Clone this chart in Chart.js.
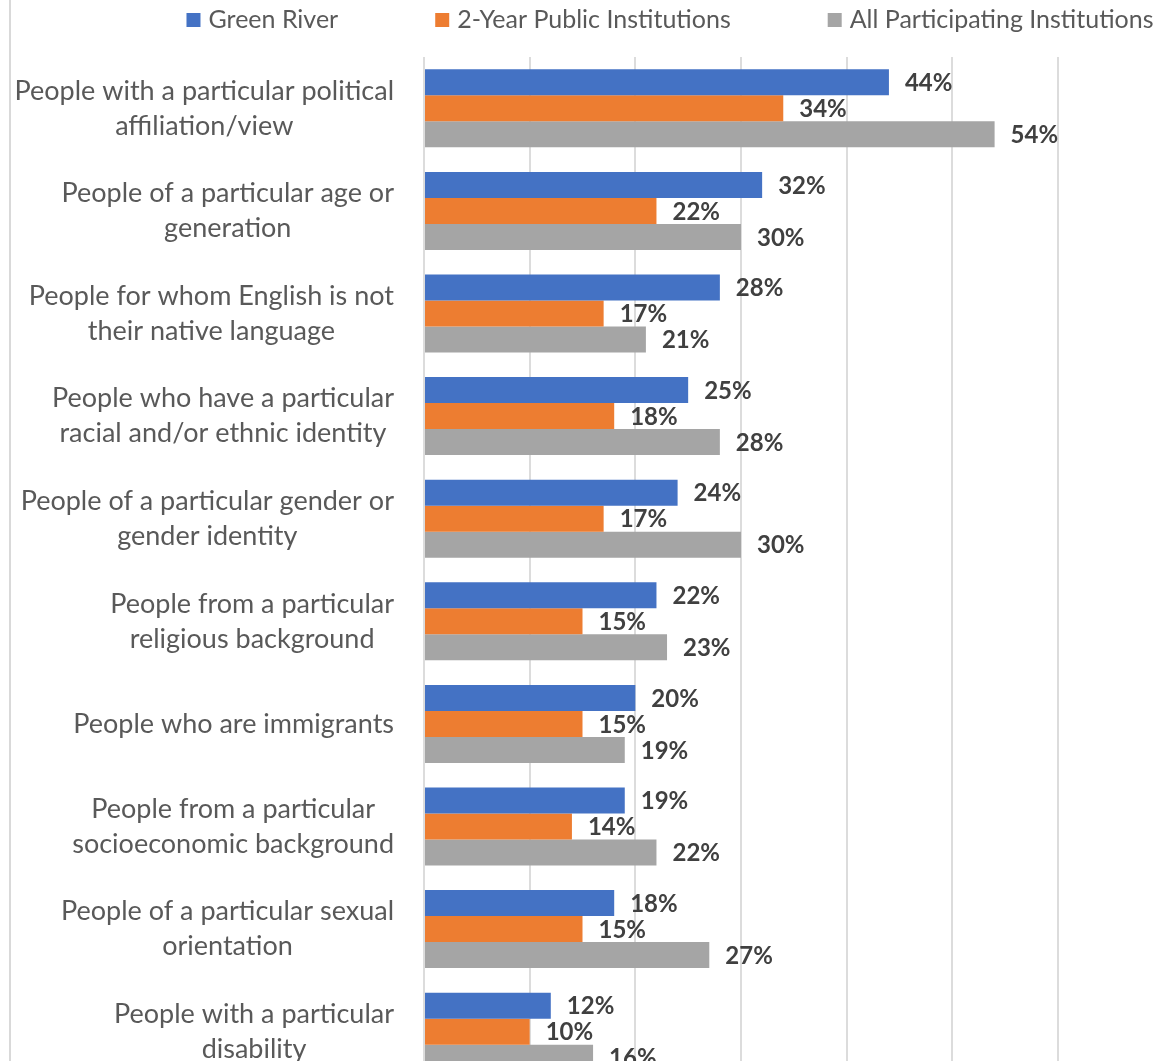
<!DOCTYPE html>
<html>
<head>
<meta charset="utf-8">
<script src="https://cdn.jsdelivr.net/npm/chart.js@4.4.1/dist/chart.umd.min.js"></script>
<style>
  html, body { margin: 0; padding: 0; background: #fff; overflow: hidden; }
  #wrap { width: 1156px; height: 1130px; }
</style>
</head>
<body>
<div id="wrap"><canvas id="placeholder1" width="1156" height="1130"></canvas></div>
<script>
const categories = [
    ['People with a particular political', 'affiliation/view'],
    ['People of a particular age or', 'generation'],
    ['People for whom English is not', 'their native language'],
    ['People who have a particular', 'racial and/or ethnic identity'],
    ['People of a particular gender or', 'gender identity'],
    ['People from a particular', 'religious background'],
    ['People who are immigrants'],
    ['People from a particular', 'socioeconomic background'],
    ['People of a particular sexual', 'orientation'],
    ['People with a particular', 'disability']
];
const greenRiver = [44, 32, 28, 25, 24, 22, 20, 19, 18, 12];
const twoYearPublic = [34, 22, 17, 18, 17, 15, 15, 14, 15, 10];
const allParticipating = [54, 30, 21, 28, 30, 23, 19, 22, 27, 16];
const xTicks = [0, 10, 20, 30, 40, 50, 60];

const FONT = 'Lato, "Open Sans", sans-serif';
const LABEL_COLOR = '#595959';

// frame line, category labels, value labels and legend
const excelLook = {
    id: 'excelLook',
    beforeDraw(chart) {
        const ctx = chart.ctx;
        ctx.save();
        ctx.fillStyle = '#d9d9d9';
        ctx.fillRect(9, 0, 2, chart.height);
        ctx.restore();
    },
    afterDatasetsDraw(chart) {
        const ctx = chart.ctx;
        ctx.save();
        ctx.font = 'bold 24px ' + FONT;
        ctx.fillStyle = '#404040';
        ctx.textAlign = 'left';
        ctx.textBaseline = 'middle';
        chart.data.datasets.forEach((ds, di) => {
            chart.getDatasetMeta(di).data.forEach((bar, i) => {
                ctx.fillText(ds.data[i] + '%', bar.x + 16, bar.y + 1);
            });
        });
        ctx.restore();
    },
    afterDraw(chart) {
        const ctx = chart.ctx;
        const yScale = chart.scales.y;
        ctx.save();
        ctx.font = '27px ' + FONT;
        ctx.fillStyle = LABEL_COLOR;
        ctx.textAlign = 'center';
        ctx.textBaseline = 'middle';
        const right = chart.chartArea.left - 30;
        const lineH = 35;
        categories.forEach((lines, i) => {
            const cy = yScale.getPixelForValue(i);
            const w = Math.max(...lines.map(l => ctx.measureText(l).width));
            const cx = right - w / 2;
            const y0 = cy - (lines.length - 1) * lineH / 2;
            lines.forEach((l, k) => ctx.fillText(l, cx, y0 + k * lineH));
        });

        // legend row across the top
        ctx.font = '25px ' + FONT;
        const box = 14, gap = 97, textGap = 8;
        const items = chart.data.datasets.map(ds => ({
            text: ds.label,
            color: ds.backgroundColor,
            w: box + textGap + ctx.measureText(ds.label).width
        }));
        const total = items.reduce((s, it) => s + it.w, 0) + gap * (items.length - 1);
        let x = 670 - total / 2;
        const ly = 20;
        ctx.textAlign = 'left';
        items.forEach(it => {
            ctx.fillStyle = it.color;
            ctx.fillRect(x, ly - box / 2, box, box);
            ctx.fillStyle = LABEL_COLOR;
            ctx.fillText(it.text, x + box + textGap, ly);
            x += it.w + gap;
        });
        ctx.restore();
    }
};

const ctx = document.getElementById('placeholder1');

const data = {
    labels: categories,
    datasets: [
        {
            label: 'Green River',
            data: greenRiver,
            backgroundColor: '#4472C4'
        },
        {
            label: '2-Year Public Institutions',
            data: twoYearPublic,
            backgroundColor: '#ED7D31'
        },
        {
            label: 'All Participating Institutions',
            data: allParticipating,
            backgroundColor: '#A5A5A5'
        }
    ]
};

const config = {
    type: 'bar',
    data: data,
    options: {
        indexAxis: 'y',
        responsive: false,
        animation: false,
        categoryPercentage: 0.76,
        barPercentage: 1.0,
        layout: {
            padding: { left: 424, right: 98, top: 57, bottom: 47 }
        },
        plugins: {
            legend: { display: false },
            tooltip: { enabled: false }
        },
        scales: {
            x: {
                min: xTicks[0],
                max: xTicks[xTicks.length - 1],
                afterBuildTicks: (scale) => {
                    scale.ticks = xTicks.map(v => ({ value: v }));
                },
                afterFit: (scale) => { scale.height = 0; },
                ticks: { display: false },
                grid: { color: '#dcdcdc', lineWidth: 2, drawTicks: false },
                border: { display: false }
            },
            y: {
                display: false
            }
        }
    },
    plugins: [excelLook]
};

const barChart = new Chart(ctx, config);
</script>
</body>
</html>
